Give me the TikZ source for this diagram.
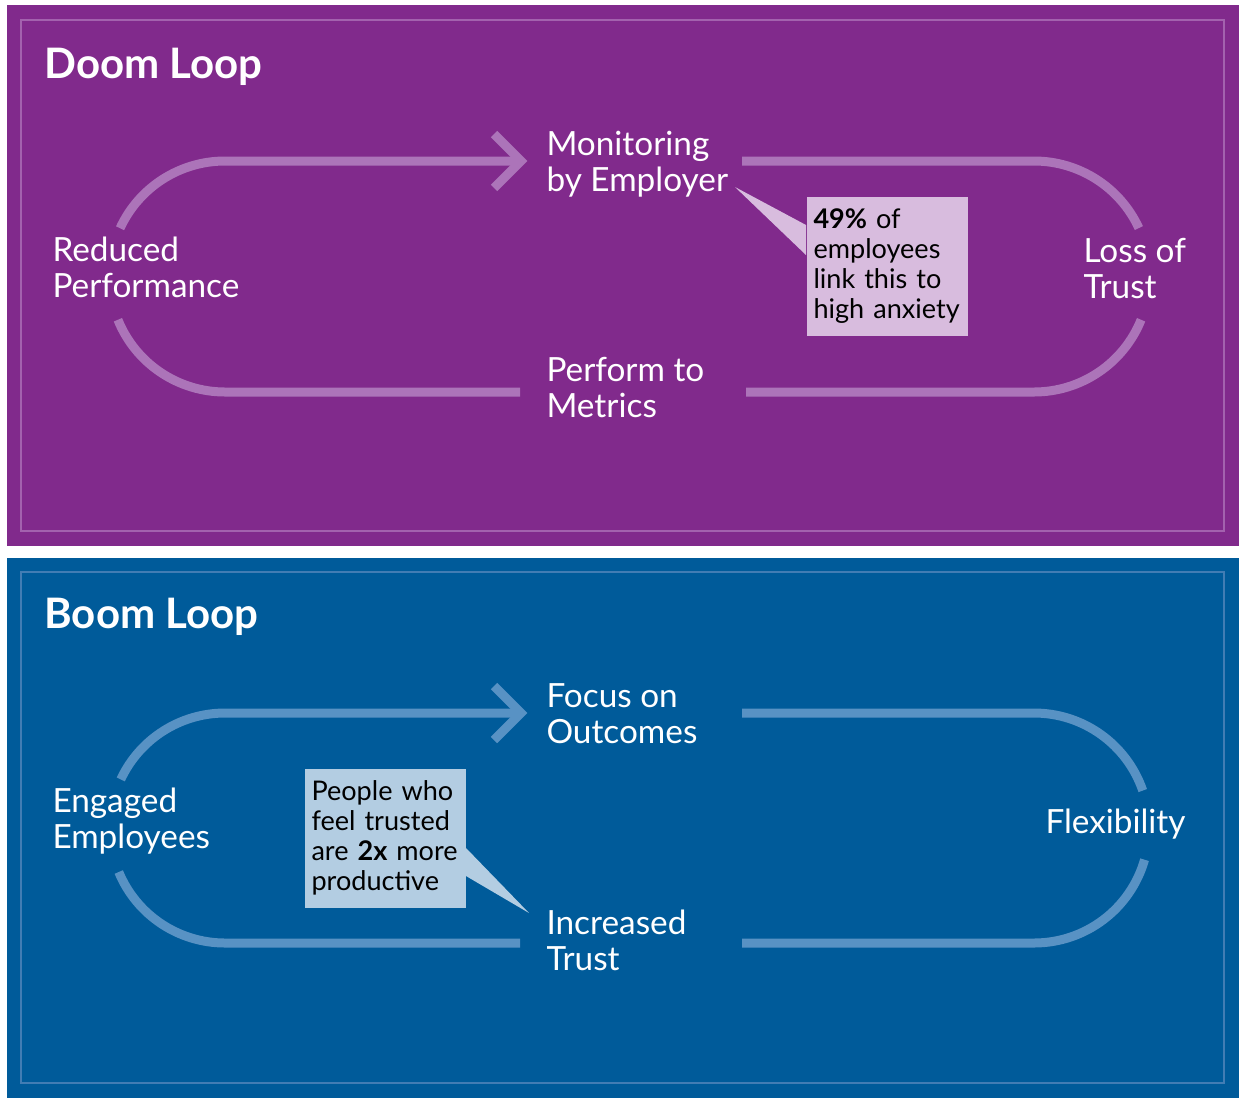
\documentclass[tikz,border=0pt]{standalone}
\usepackage{fontspec}
\setmainfont{Lato}

\tikzset{every picture/.style={line width=0.75pt}}
\tikzset{
  doomloop/.style={draw={rgb, 255:red, 172; green, 116; blue, 185}, line width=6.75pt},
  boomloop/.style={draw={rgb, 255:red, 88; green, 146; blue, 196}, line width=6.75pt},
  looptitle/.style={anchor=base west, inner sep=0pt, text=white, font=\fontsize{31.5}{36}\selectfont\bfseries},
  looplabel/.style={anchor=base west, inner sep=0pt, align=left, text=white, font=\fontsize{25}{26.8}\selectfont},
  notebox/.style={anchor=north west, inner xsep=5.25pt, inner ysep=0pt, minimum width=120.75pt, minimum height=104.25pt, text width=110.25pt, align=left, text=black, font=\fontsize{20.3}{22.5}\selectfont},
}

\begin{document}
\begin{tikzpicture}[x=0.75pt,y=0.75pt,yscale=-1,xscale=1]
    \useasboundingbox (0,0) rectangle (1244,1104);
    \fill [white] (0,0) rectangle (1244,1104);

    %Shape: Rectangle [doom panel]
    \fill [color={rgb, 255:red, 129; green, 42; blue, 140}] (7,5) rectangle (1239,546);
    \draw [color={rgb, 255:red, 163; green, 98; blue, 174}, line width=1.5pt] (21,20) rectangle (1224,531);
    %Shape: Rectangle [boom panel]
    \fill [color={rgb, 255:red, 0; green, 91; blue, 154}] (7,558) rectangle (1239,1098);
    \draw [color={rgb, 255:red, 66; green, 125; blue, 180}, line width=1.5pt] (21,572) rectangle (1224,1083);

    % Text Node (two-line labels sit on their last baseline)
    \node [looptitle] (doom) at (44,78) {Doom Loop};
    \node [looplabel] (monitor) at (546,191) {Monitoring\\by Employer};
    \node [looplabel] (loss) at (1083,298) {Loss of\\Trust};
    \node [looplabel] (metrics) at (546,417) {Perform to\\Metrics};
    \node [looplabel] (reduced) at (52,297) {Reduced\\Performance};

    %Loop centres and ends
    \coordinate (doom-lc) at (225,276.5);
    \coordinate (doom-rc) at (1034,276.5);
    \coordinate (monitor-in) at (521,161);
    \coordinate (monitor-out) at (742,161);
    \coordinate (metrics-in) at (746,392);
    \coordinate (metrics-out) at (520,392);

    %Curve Lines [doom loop]
    \draw [doomloop] ([shift={(204.7:115.5)}]doom-lc) arc [start angle=204.7, end angle=270, radius=115.5] -- (monitor-in);
    \draw [doomloop, line join=miter] (494,134) -- (monitor-in) -- (494,188);
    \draw [doomloop] (monitor-out) -- ([shift={(270:115.5)}]doom-rc) arc [start angle=270, end angle=335.2, radius=115.5];
    \draw [doomloop] ([shift={(22:115.5)}]doom-rc) arc [start angle=22, end angle=90, radius=115.5] -- (metrics-in);
    \draw [doomloop] (metrics-out) -- ([shift={(90:115.5)}]doom-lc) arc [start angle=90, end angle=158, radius=115.5];

    %Shape: Callout [anxiety]
    \node [notebox, fill={rgb, 255:red, 216; green, 188; blue, 222}] (anxiety) at (806,196) {\textbf{49\%} of\\employees\\link this to\\high anxiety};
    \coordinate (anxiety-tip) at (735,187);
    \fill [color={rgb, 255:red, 216; green, 188; blue, 222}] (anxiety-tip) -- (anxiety.north west |- 0,225) -- (anxiety.north west |- 0,255) -- cycle;

    % Text Node
    \node [looptitle] (boom) at (44,628) {Boom Loop};
    \node [looplabel] (focus) at (546,743) {Focus on\\Outcomes};
    \node [looplabel] (flex) at (1045,833) {Flexibility};
    \node [looplabel] (trust) at (546,970) {Increased\\Trust};
    \node [looplabel] (engaged) at (52,848) {Engaged\\Employees};

    %Loop centres and ends
    \coordinate (boom-lc) at (225,828);
    \coordinate (boom-rc) at (1034,828);
    \coordinate (focus-in) at (521,713);
    \coordinate (focus-out) at (742,713);
    \coordinate (trust-in) at (742,943);
    \coordinate (trust-out) at (520,943);

    %Curve Lines [boom loop]
    \draw [boomloop] ([shift={(205:115)}]boom-lc) arc [start angle=205, end angle=270, radius=115] -- (focus-in);
    \draw [boomloop, line join=miter] (494,686) -- (focus-in) -- (494,740);
    \draw [boomloop] (focus-out) -- ([shift={(270:115)}]boom-rc) arc [start angle=270, end angle=341, radius=115];
    \draw [boomloop] ([shift={(16:115)}]boom-rc) arc [start angle=16, end angle=90, radius=115] -- (trust-in);
    \draw [boomloop] (trust-out) -- ([shift={(90:115)}]boom-lc) arc [start angle=90, end angle=157.5, radius=115];

    %Shape: Callout [productive]
    \node [notebox, fill={rgb, 255:red, 179; green, 205; blue, 226}] (productive) at (304,768) {People who\\feel trusted\\are \textbf{2x} more\\productive};
    \coordinate (productive-tip) at (529,913);
    \fill [color={rgb, 255:red, 179; green, 205; blue, 226}] (productive-tip) -- (productive.north east |- 0,848) -- (productive.north east |- 0,876) -- cycle;

\end{tikzpicture}
\end{document}
